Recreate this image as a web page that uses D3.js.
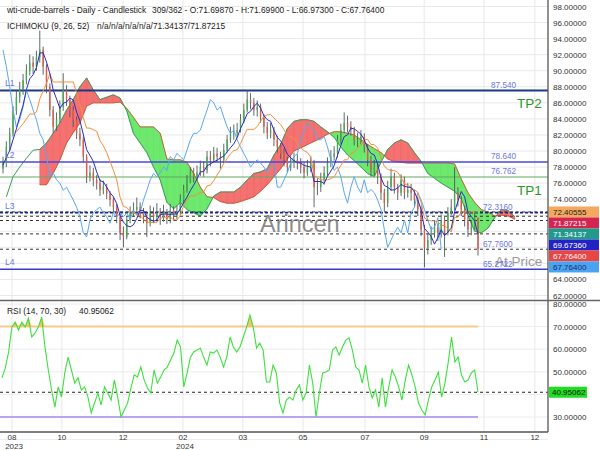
<!DOCTYPE html>
<html><head><meta charset="utf-8">
<script src="https://cdn.jsdelivr.net/npm/d3@7"></script>
<style>
body{margin:0;background:#fff;}
svg{display:block;font-family:"Liberation Sans",Arial,sans-serif;}
</style></head><body>
<svg id="c" width="600" height="450"></svg>
<script>
// ---------- DATA ----------
const firstOpen = 77.8;
const closes = [78.5,80.5,82.2,85.0,86.7,87.6,88.8,90.0,91.0,90.5,
 91.7,92.6,90.5,88.0,85.1,83.0,83.9,85.5,87.6,86.4,
 85.1,83.9,82.2,81.4,79.3,76.8,77.3,76.4,76.0,75.1,
 75.5,74.7,73.9,73.0,71.8,69.8,69.3,71.4,72.3,72.7,
 73.0,72.3,71.8,71.0,72.3,71.8,72.3,71.8,72.3,71.5,
 72.6,72.0,72.4,
 73.9,75.1,76.4,77.2,76.8,77.3,78.0,77.6,79.3,78.9,
 79.7,79.3,78.9,80.1,81.4,82.2,82.2,82.6,83.9,85.1,
 86.4,86.0,85.1,85.5,84.2,83.0,82.2,82.6,81.4,80.5,
 79.7,78.9,78.0,78.5,78.9,78.5,78.0,77.3,78.0,78.5,
 75.5,75.5,76.4,77.3,78.5,79.3,79.7,81.4,82.6,83.5,
 83.0,82.6,81.4,81.4,81.8,80.5,78.9,77.6,78.0,76.8,
 74.8,73.5,75.5,76.8,75.5,74.8,76.4,74.8,75.2,74.8,
 73.9,72.7,70.2,68.0,68.9,69.8,70.5,69.8,71.4,69.8,
 72.3,73.0,74.8,73.9,72.7,71.4,70.2,70.5,71.6987,67.764];
const highs = [79.3,81.2,82.9,85.6,87.5,88.6,89.6,90.8,92.0,91.8,
 92.5,95.0,93.0,90.8,88.4,85.6,84.8,86.3,89.7,88.2,
 86.9,85.6,84.3,82.9,81.8,79.6,78.2,77.9,77.0,76.5,
 76.3,75.9,75.0,74.3,73.4,72.2,70.6,71.9,73.1,73.6,
 74.2,73.6,72.9,72.4,73.2,73.0,73.5,72.9,73.3,72.8,
 73.4,73.1,73.2,
 74.6,75.8,77.0,78.0,77.9,78.2,78.8,78.7,80.0,80.0,
 80.5,80.4,79.9,80.9,82.0,83.0,83.3,83.5,84.6,85.9,
 87.6,87.2,86.6,86.3,85.9,84.6,83.6,83.5,83.0,81.9,
 81.0,80.3,79.3,79.4,79.8,79.6,79.1,78.6,78.9,79.4,
 78.9,76.6,77.3,78.1,79.2,80.1,80.6,82.0,83.4,84.8,
 84.4,83.7,83.0,82.3,82.6,82.2,80.9,79.4,78.9,78.5,
 77.2,75.3,76.3,77.8,77.3,75.9,77.1,76.8,76.0,75.9,
 75.2,74.3,73.2,70.8,69.8,70.6,71.3,71.0,72.1,71.8,
 73.0,74.0,78.0,75.5,74.4,73.2,71.9,71.4,72.3,71.699];
const lows = [77.2,78.0,80.0,81.8,84.5,86.0,87.0,88.3,89.4,89.6,
 90.0,91.0,89.5,87.2,84.3,82.2,82.5,83.5,85.0,85.6,
 84.2,83.0,81.5,80.6,78.6,76.0,76.2,75.6,75.2,74.4,
 74.6,74.0,73.1,72.3,71.0,68.9,68.0,69.0,71.0,71.8,
 72.1,71.6,71.0,69.3,70.6,71.0,71.2,70.8,71.2,70.9,
 71.0,71.3,71.5,
 72.1,73.5,74.8,76.0,76.1,76.3,76.9,76.8,77.2,78.1,
 78.5,78.6,77.8,78.5,79.8,81.0,81.4,81.7,82.3,83.5,
 84.8,85.2,84.4,84.3,83.5,82.2,81.5,81.6,80.6,79.8,
 79.0,78.1,77.3,77.5,77.9,77.7,77.2,76.6,76.9,77.4,
 73.0,74.5,74.9,75.8,76.9,78.0,78.8,79.2,80.9,82.2,
 82.3,81.9,80.7,80.5,80.8,79.8,78.1,76.8,76.9,75.9,
 73.9,72.5,73.0,75.0,74.7,73.9,74.4,74.0,74.2,73.8,
 73.0,71.9,69.4,65.5,67.1,68.3,69.2,68.8,69.2,66.8,
 69.5,72.0,72.6,73.1,71.9,70.6,69.3,69.5,70.2,66.973];
// Ichimoku cloud edges, one value every 2 bars starting at bar 1 (null = not drawn)
const spanA = [null,null,null,null,null,
 75.8,75.8,77.2,78.9,81.0,82.3,83.5,85.6,86.0,86.0,86.0,86.0,86.1,
 85.3,84.2,83.0,83.0,83.0,82.2,79.0,78.9,78.9,78.6,77.2,75.5,74.3,74.2,
 73.7,73.5,73.5,73.7,74.0,74.3,75.0,75.8,76.8,77.8,79.0,80.0,80.4,80.8,81.2,81.6,82.1,
 82.4,82.4,82.2,82.0,81.4,80.8,80.3,79.8,79.0,78.7,78.6,78.5,78.5,78.5,
 78.5,78.5,78.5,78.5,78.4,76.5,74.8,73.6,72.7,72.4,71.9,72.0,71.9,71.5];
const spanB = [74.3,76.8,78.0,79.1,80.1,
 80.2,81.0,82.2,83.5,85.1,86.4,88.0,89.1,87.6,86.4,86.7,87.0,86.6,
 85.0,82.2,81.0,79.8,78.0,76.4,73.6,72.8,73.6,72.7,72.3,71.9,72.8,74.4,
 74.9,74.9,74.9,75.5,76.4,77.2,77.4,77.8,79.5,80.8,82.8,83.7,83.9,83.9,83.7,83.0,82.4,
 81.7,80.5,79.5,78.8,78.0,77.2,76.8,78.6,80.2,81.0,81.4,81.0,79.8,78.7,
 77.2,76.6,76.0,75.5,75.0,74.0,72.0,70.0,69.8,70.4,71.7,72.7,72.6,71.8];
const rsi = [47.3,51.7,58.8,69.8,72.0,68.5,72.0,69.8,73.8,65.4,
 67.2,69.8,74.2,61.0,50.8,42.0,34.4,43.3,38.8,49.5,
 56.5,50.8,45.0,47.3,42.0,43.3,38.8,31.8,36.2,40.6,
 35.3,43.3,40.6,37.5,46.4,38.8,30.0,33.1,36.2,42.8,
 48.6,47.7,52.1,46.4,42.8,40.6,50.8,45.0,47.7,50.8,
 52.1,55.2,58.3,64.0,61.0,43.3,49.5,56.5,58.8,59.6,
 60.5,56.5,53.0,58.8,58.3,59.6,56.5,52.1,56.5,65.4,
 61.0,58.8,61.0,65.4,69.8,75.1,69.8,60.5,62.7,59.6,
 45.5,45.5,53.0,49.5,36.2,31.8,37.5,38.8,37.5,42.0,
 44.2,37.5,40.6,53.0,45.0,30.0,40.6,49.5,49.9,50.8,
 59.6,61.0,57.4,61.0,64.0,65.0,59.6,52.1,50.8,45.0,
 53.0,43.3,38.4,42.0,34.4,47.3,34.4,43.3,50.8,47.7,
 43.3,37.5,46.4,53.0,48.6,43.3,36.2,33.1,30.9,37.5,
 43.3,46.4,49.9,38.8,45.0,54.3,65.4,54.3,56.5,48.6,
 45.5,46.4,49.5,50.8,40.95062];
const monthLabels = ["08","10","12","02","03","05","07","09","11","12"];
const yearLabels  = ["2023","","","2024","","","","","",""];
const monthBars   = [2.7,17.6,35.9,53.8,71.7,89.7,108.2,125.9,143.8,159];
const levelNames  = ["L1","L2","L3","L4"];
const levelValues = [87.540,78.640,72.3160,65.2722];
const targetNames = ["TP2","TP1"];
const targetValues= [87.548,76.762];
const levelTexts  = ["87.540","78.640","76.762","72.3160","67.7600","65.2722"];
const levelTextValues = [87.540,78.640,76.762,72.3160,67.7600,65.2722];
const lastNames   = ["kijun","spanB","spanA","tenkan","close","chikou"];
const lastValues  = [72.40555,71.87215,71.34137,69.67360,67.76400,67.76400];
const rsiLevels   = [70,30];
const rsiLast     = 40.95062;
const tenkanPeriod = 4, kijunPeriod = 11, shift = 11; // in displayed bars

// ---------- DRAW ----------
const svg = d3.select("#c");
const W = 548;
const x  = d3.scaleLinear().domain([0, closes.length-1]).range([3, 478]);
const y  = d3.scaleLinear().domain([62, 98]).range([295.5, 6.5]);
const yr = d3.scaleLinear().domain([30, 80]).range([417, 304]);
const xr = d3.scaleLinear().domain([0, rsi.length-1]).range([2, 478]);

const defs = svg.append("defs");
defs.append("clipPath").attr("id","mainClip").append("rect").attr("x",0).attr("y",0).attr("width",W).attr("height",300);
defs.append("clipPath").attr("id","rsiClip").append("rect").attr("x",0).attr("y",301).attr("width",W).attr("height",131);
defs.append("clipPath").attr("id","axClip").append("rect").attr("x",W).attr("y",301).attr("width",52).attr("height",131);

// grid
const grid = svg.append("g");
y.ticks(18).forEach(v=>{
  grid.append("line").attr("x1",0).attr("x2",W).attr("y1",y(v)).attr("y2",y(v)).attr("stroke","#e8e8e8");
});
d3.range(20,81,10).forEach(v=>{
  grid.append("line").attr("x1",0).attr("x2",W).attr("y1",yr(v)).attr("y2",yr(v)).attr("stroke","#ececec");
});
monthBars.forEach(b=>{
  grid.append("line").attr("x1",x(b)).attr("x2",x(b)).attr("y1",0).attr("y2",432).attr("stroke","#e8e8e8");
});

const main = svg.append("g").attr("clip-path","url(#mainClip)");

// cloud
const cloud = spanA.map((a,k)=>({bar:1+2*k, a, b:spanB[k]}));
const cg = main.append("g");
function poly(pts, up){
  cg.append("path").attr("d", d3.line().x(p=>x(p[0])).y(p=>y(p[1]))(pts)+"Z")
    .attr("fill", up ? "#5fe65f" : "#f46363").attr("fill-opacity",0.9)
    .attr("stroke", up ? "#5fe65f" : "#f46363").attr("stroke-width",0.6);
}
for (let k=0;k<cloud.length-1;k++){
  const p=cloud[k], q=cloud[k+1];
  if (p.a==null || q.a==null) continue;
  const d1=p.a-p.b, d2=q.a-q.b;
  if (d1*d2>=0){
    poly([[p.bar,p.a],[q.bar,q.a],[q.bar,q.b],[p.bar,p.b]], (d1+d2)>=0);
  } else {
    const t=d1/(d1-d2), xb=p.bar+t*(q.bar-p.bar), yv=p.a+t*(q.a-p.a);
    poly([[p.bar,p.a],[xb,yv],[p.bar,p.b]], d1>0);
    poly([[xb,yv],[q.bar,q.a],[q.bar,q.b]], d2>0);
  }
}
main.append("path").datum(cloud).attr("fill","none").attr("stroke","#c8603c").attr("stroke-width",1)
  .attr("d", d3.line().defined(d=>d.a!=null).x(d=>x(d.bar)).y(d=>y(d.a)));
main.append("path").datum(cloud).attr("fill","none").attr("stroke","#3d9a58").attr("stroke-width",1)
  .attr("d", d3.line().defined(d=>d.b!=null).x(d=>x(d.bar)).y(d=>y(d.b)));

// level lines
const lv = main.append("g");
lv.append("line").attr("x1",0).attr("x2",W).attr("y1",y(targetValues[0])).attr("y2",y(targetValues[0])).attr("stroke","#3a9a3a").attr("stroke-width",1);
lv.append("line").attr("x1",0).attr("x2",W).attr("y1",y(targetValues[1])).attr("y2",y(targetValues[1])).attr("stroke","#62a862").attr("stroke-width",1.2);
lv.append("line").attr("x1",0).attr("x2",W).attr("y1",y(levelValues[0])).attr("y2",y(levelValues[0])).attr("stroke","#1c3a86").attr("stroke-width",2);
lv.append("line").attr("x1",0).attr("x2",W).attr("y1",y(levelValues[1])).attr("y2",y(levelValues[1])).attr("stroke","#4848e0").attr("stroke-width",1.5);
lv.append("line").attr("x1",0).attr("x2",W).attr("y1",y(levelValues[3])).attr("y2",y(levelValues[3])).attr("stroke","#3a3ad0").attr("stroke-width",1.5);
lastValues.slice(0,5).forEach(v=>{
  lv.append("line").attr("x1",0).attr("x2",W).attr("y1",y(v)).attr("y2",y(v)).attr("stroke","#333").attr("stroke-width",1).attr("stroke-dasharray","3,3");
});
lv.append("line").attr("x1",0).attr("x2",W).attr("y1",y(levelValues[2])).attr("y2",y(levelValues[2])).attr("stroke","#1a2a80").attr("stroke-width",1.8).attr("stroke-dasharray","3,2");

// candles
const cd = main.append("g");
closes.forEach((c,i)=>{
  const o = i===0 ? firstOpen : closes[i-1];
  const up = c>=o;
  cd.append("line").attr("x1",x(i)).attr("x2",x(i)).attr("y1",y(highs[i])).attr("y2",y(lows[i]))
    .attr("stroke", "#4d5a55").attr("stroke-width",0.9);
  const top = y(Math.max(o,c)), bot = y(Math.min(o,c));
  cd.append("rect").attr("x",x(i)-0.7).attr("width",1.4).attr("y",top).attr("height",Math.max(0.8,bot-top))
    .attr("fill", up ? "#45a855" : "#df5a4c");
});

// indicator lines (derived from candle data)
const tenkan = closes.map((c,i)=>{
  const s=Math.max(0,i-tenkanPeriod+1);
  return (d3.max(highs.slice(s,i+1))+d3.min(lows.slice(s,i+1)))/2;
});
const kijun = closes.map((c,i)=>{
  if (i<4) return null;
  const s=Math.max(0,i-kijunPeriod+1);
  return (d3.max(highs.slice(s,i+1))+d3.min(lows.slice(s,i+1)))/2;
});
const chikou = closes.map((c,i)=> i+shift<closes.length ? closes[i+shift] : null);
const ln = d3.line().defined(d=>d!=null).x((d,i)=>x(i)).y(d=>y(d));
main.append("path").datum(chikou).attr("fill","none").attr("stroke","#5aa8f0").attr("stroke-width",1).attr("d",ln);
main.append("path").datum(kijun).attr("fill","none").attr("stroke","#f0903c").attr("stroke-width",1).attr("d",ln);
main.append("path").datum(tenkan).attr("fill","none").attr("stroke","#2c2cc0").attr("stroke-width",1).attr("d",ln);

// watermark & labels
main.append("text").attr("x",260).attr("y",232).attr("font-size",23.5).attr("fill","#777").attr("fill-opacity",0.85).text("Arincen");
main.append("text").attr("x",495).attr("y",266).attr("font-size",13.5).attr("fill","#9a9a9a").text("At Price");
const lbl = svg.append("g").attr("font-size",8.2).attr("fill","#6a78e6");
levelTexts.forEach((t,i)=>{
  lbl.append("text").attr("x", i>=3 ? 483 : 491).attr("y", y(levelTextValues[i])-2.5).text(t);
});
levelNames.forEach((n,i)=>{
  svg.append("text").attr("x",5).attr("y",y(levelValues[i])-4).attr("font-size",8.5).attr("fill","#6a78e6").text(n);
});
targetNames.forEach((n,i)=>{
  svg.append("text").attr("x",517).attr("y",y(targetValues[i])+18).attr("font-size",13.5).attr("fill","#2a962a").text(n);
});

// header
const hd = svg.append("g").attr("font-size",8.4).attr("fill","#222");
hd.append("text").attr("x",7).attr("y",13).text("wti-crude-barrels - Daily - Candlestick");
hd.append("text").attr("x",152).attr("y",13).text("309/362 - O:71.69870 - H:71.69900 - L:66.97300 - C:67.76400");
hd.append("text").attr("x",7).attr("y",28.5).text("ICHIMOKU (9, 26, 52)");
hd.append("text").attr("x",97).attr("y",28.5).text("n/a/n/a/n/a/n/a/71.34137/71.87215");

// last-value label positions (stacked so they do not overlap)
const lastBg = ["#f5a95e","#d42550","#1f9a8c","#2323c4","#e84545","#4aa3f0"];
const lastFg = ["#222","#fff","#fff","#fff","#fff","#1a2a70"];
let prev = -100;
const lastY = lastValues.map(v=>{ const yy = Math.max(y(v), prev+11); prev = yy; return yy; });
const busy = lastY.map(yy=>[yy-5.5, yy+5.5]);

// right axis main (labels hidden under the value boxes are not drawn)
const ax = svg.append("g").attr("font-size",8).attr("fill","#333");
y.ticks(18).forEach(v=>{
  const ty = y(v);
  if (busy.some(b=> ty+4 > b[0]-1 && ty-4 < b[1]+1)) return;
  ax.append("text").attr("x",553).attr("y",ty+3).text(d3.format(".5f")(v));
});
lastValues.forEach((v,i)=>{
  svg.append("rect").attr("x",549).attr("y",lastY[i]-5.5).attr("width",50).attr("height",11).attr("fill",lastBg[i]);
  svg.append("text").attr("x",553).attr("y",lastY[i]+3).attr("font-size",8).attr("fill",lastFg[i]).text(d3.format(".5f")(v));
});

// RSI panel
const rp = svg.append("g").attr("clip-path","url(#rsiClip)");
const xEnd = xr(rsi.length-1);
rp.append("line").attr("x1",0).attr("x2",xEnd).attr("y1",yr(rsiLevels[0])).attr("y2",yr(rsiLevels[0])).attr("stroke","#f8c98c").attr("stroke-width",2);
rp.append("line").attr("x1",0).attr("x2",xEnd).attr("y1",yr(rsiLevels[1])).attr("y2",yr(rsiLevels[1])).attr("stroke","#b9a4f0").attr("stroke-width",2);
rp.append("path").datum(rsi).attr("fill","#f5bf55").attr("fill-opacity",0.9)
  .attr("d", d3.area().x((d,i)=>xr(i)).y0(yr(rsiLevels[0])).y1(d=>yr(Math.max(d,rsiLevels[0]))));
rp.append("line").attr("x1",0).attr("x2",W).attr("y1",yr(rsiLast)).attr("y2",yr(rsiLast)).attr("stroke","#222").attr("stroke-dasharray","3,3");
rp.append("path").datum(rsi).attr("fill","none").attr("stroke","#3ee03e").attr("stroke-width",1.1)
  .attr("d", d3.line().x((d,i)=>xr(i)).y(d=>yr(d)));
svg.append("text").attr("x",7).attr("y",313.5).attr("font-size",8.4).attr("fill","#222").text("RSI (14, 70, 30)");
svg.append("text").attr("x",79).attr("y",313.5).attr("font-size",8.4).attr("fill","#222").text(d3.format(".5f")(rsiLast));
const rax = svg.append("g").attr("clip-path","url(#axClip)").attr("font-size",8).attr("fill","#333");
const rsiBox = [yr(rsiLast)-5.5, yr(rsiLast)+5.5];
d3.range(20,81,10).forEach(v=>{
  const ty = yr(v);
  if (ty+4 > rsiBox[0]-1 && ty-4 < rsiBox[1]+1) return;
  rax.append("text").attr("x",553).attr("y",ty+3).text(d3.format(".5f")(v));
});
svg.append("rect").attr("x",549).attr("y",rsiBox[0]).attr("width",38).attr("height",11).attr("fill","#22dd22");
svg.append("text").attr("x",552).attr("y",yr(rsiLast)+3).attr("font-size",8).attr("fill","#111").text(d3.format(".5f")(rsiLast));

// frame
svg.append("line").attr("x1",W).attr("x2",W).attr("y1",0).attr("y2",432).attr("stroke","#555").attr("stroke-width",1.3);
svg.append("line").attr("x1",0).attr("x2",600).attr("y1",300.5).attr("y2",300.5).attr("stroke","#666").attr("stroke-width",1.3);
svg.append("line").attr("x1",0).attr("x2",W).attr("y1",432).attr("y2",432).attr("stroke","#555").attr("stroke-width",1.3);

// x axis
const xa = svg.append("g").attr("font-size",8).attr("fill","#333").attr("text-anchor","middle");
monthLabels.forEach((m,i)=>{
  xa.append("text").attr("x",x(monthBars[i])).attr("y",440).text(m);
  if (yearLabels[i]) xa.append("text").attr("x",x(monthBars[i])+2).attr("y",449).text(yearLabels[i]);
});
</script>
</body></html>
